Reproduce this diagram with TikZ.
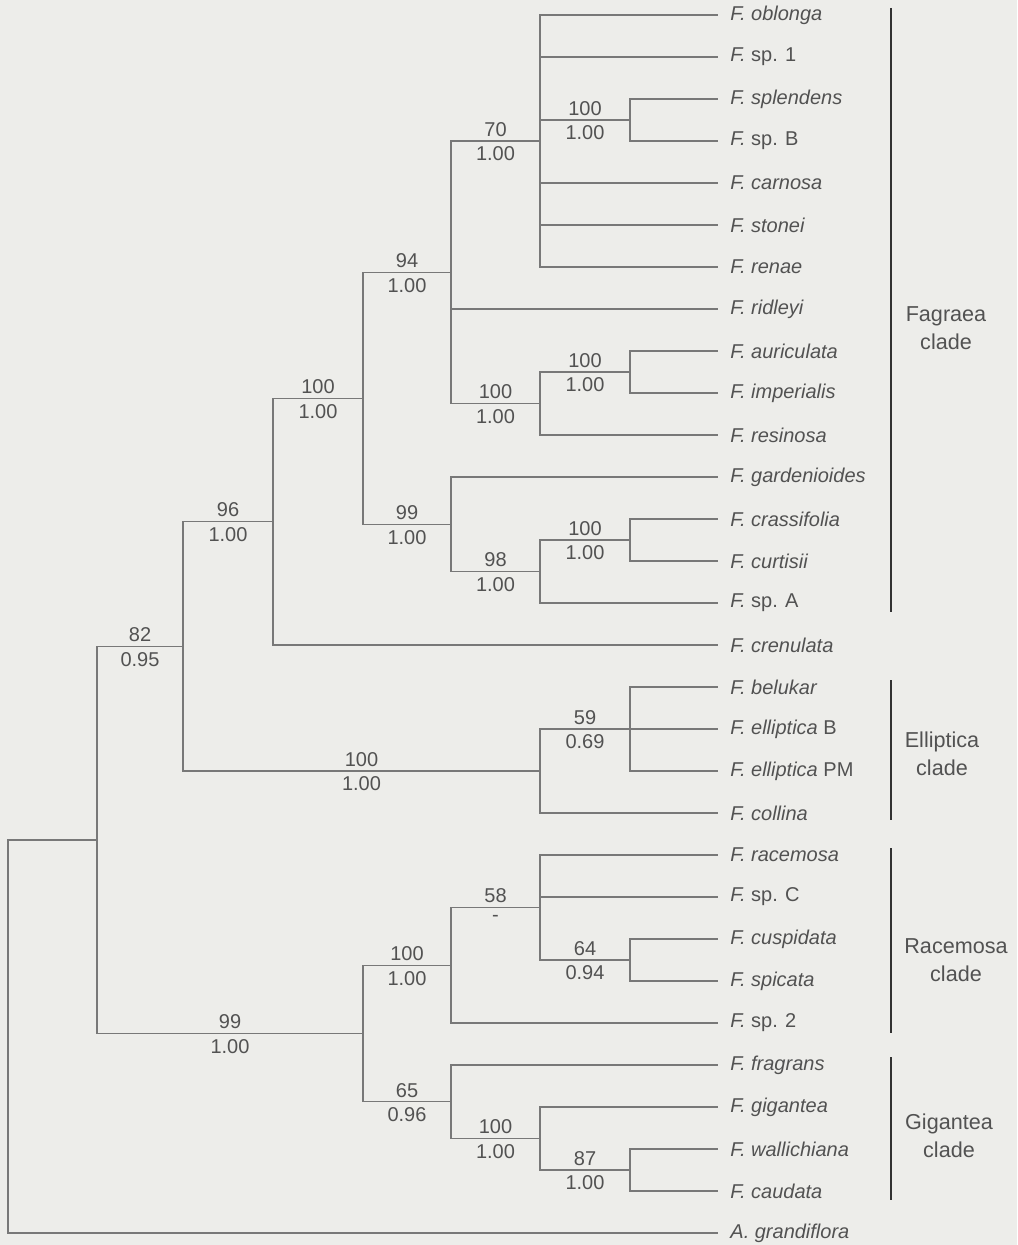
\documentclass[tikz,border=0pt]{standalone}
\usepackage{fontspec}
\setmainfont{Liberation Sans}
\definecolor{bgcol}{RGB}{237,237,234}
\definecolor{brgray}{RGB}{120,120,120}
\definecolor{txtgray}{RGB}{82,82,82}
\definecolor{bargray}{RGB}{50,50,50}

\begin{document}
\begin{tikzpicture}[x=0.5pt,y=-0.5pt,
    br/.style={draw=brgray, line width=0.6pt},
    leaf/.style={anchor=west, inner xsep=6pt, inner ysep=0pt, text=txtgray, font=\fontsize{10}{12}\selectfont},
    bs/.style={pos=0.75, above, inner sep=2pt, text=txtgray, font=\fontsize{10}{12}\selectfont},
    pp/.style={pos=0.75, below, inner sep=2.6pt, text=txtgray, font=\fontsize{10}{12}\selectfont},
    cbar/.style={draw=bargray, line width=1.4pt},
    clade/.style={align=center, text=txtgray, font=\fontsize{10.8}{14}\selectfont}
]
\fill[bgcol] (0,0) rectangle (1017,1245);
\useasboundingbox (0,0) rectangle (1017,1245);

% internal nodes
\coordinate (root) at (8,1036.5);
\coordinate (nA) at (97,840);
\coordinate (n82) at (183,646.3);
\coordinate (n96) at (273,521.6);
\coordinate (n100a) at (363,398.3);
\coordinate (n94) at (451,272.3);
\coordinate (n70) at (540,141);
\coordinate (n100c) at (630,120);
\coordinate (n100b) at (540,403.5);
\coordinate (n100d) at (630,372);
\coordinate (n99b) at (451,524.3);
\coordinate (n98) at (540,571.5);
\coordinate (n100e) at (630,540);
\coordinate (nEll) at (540,771);
\coordinate (n59) at (630,729);
\coordinate (nB) at (363,1033.5);
\coordinate (n100f) at (451,965.3);
\coordinate (n58) at (540,907.5);
\coordinate (n64) at (630,960);
\coordinate (n65) at (451,1101.8);
\coordinate (n100g) at (540,1138.5);
\coordinate (n87) at (630,1170);

% taxa
\node[leaf] (oblonga) at (718,15) {\textit{F. oblonga}};
\node[leaf] (sp1) at (718,57) {\textit{F.} sp. 1};
\node[leaf] (splendens) at (718,99) {\textit{F. splendens}};
\node[leaf] (spB) at (718,141) {\textit{F.} sp. B};
\node[leaf] (carnosa) at (718,183) {\textit{F. carnosa}};
\node[leaf] (stonei) at (718,225) {\textit{F. stonei}};
\node[leaf] (renae) at (718,267) {\textit{F. renae}};
\node[leaf] (ridleyi) at (718,309) {\textit{F. ridleyi}};
\node[leaf] (auriculata) at (718,351) {\textit{F. auriculata}};
\node[leaf] (imperialis) at (718,393) {\textit{F. imperialis}};
\node[leaf] (resinosa) at (718,435) {\textit{F. resinosa}};
\node[leaf] (gardenioides) at (718,477) {\textit{F. gardenioides}};
\node[leaf] (crassifolia) at (718,519) {\textit{F. crassifolia}};
\node[leaf] (curtisii) at (718,561) {\textit{F. curtisii}};
\node[leaf] (spA) at (718,603) {\textit{F.} sp. A};
\node[leaf] (crenulata) at (718,645) {\textit{F. crenulata}};
\node[leaf] (belukar) at (718,687) {\textit{F. belukar}};
\node[leaf] (ellB) at (718,729) {\textit{F. elliptica} B};
\node[leaf] (ellPM) at (718,771) {\textit{F. elliptica} PM};
\node[leaf] (collina) at (718,813) {\textit{F. collina}};
\node[leaf] (racemosa) at (718,855) {\textit{F. racemosa}};
\node[leaf] (spC) at (718,897) {\textit{F.} sp. C};
\node[leaf] (cuspidata) at (718,939) {\textit{F. cuspidata}};
\node[leaf] (spicata) at (718,981) {\textit{F. spicata}};
\node[leaf] (sp2) at (718,1023) {\textit{F.} sp. 2};
\node[leaf] (fragrans) at (718,1065) {\textit{F. fragrans}};
\node[leaf] (gigantea) at (718,1107) {\textit{F. gigantea}};
\node[leaf] (wallichiana) at (718,1149) {\textit{F. wallichiana}};
\node[leaf] (caudata) at (718,1191) {\textit{F. caudata}};
\node[leaf] (grandiflora) at (718,1233) {\textit{A. grandiflora}};

% branches
\draw[br] (root) |- (nA);
\draw[br] (root) |- (grandiflora);
\draw[br] (nA) |- (n82) node[bs] {82} node[pp] {0.95};
\draw[br] (nA) |- (nB) node[bs] {99} node[pp] {1.00};

\draw[br] (n82) |- (n96) node[bs] {96} node[pp] {1.00};
\draw[br] (n82) |- (nEll) node[bs] {100} node[pp] {1.00};
\draw[br] (n96) |- (n100a) node[bs] {100} node[pp] {1.00};
\draw[br] (n96) |- (crenulata);
\draw[br] (n100a) |- (n94) node[bs] {94} node[pp] {1.00};
\draw[br] (n100a) |- (n99b) node[bs] {99} node[pp] {1.00};
\draw[br] (n94) |- (n70) node[bs] {70} node[pp] {1.00};
\draw[br] (n94) |- (ridleyi);
\draw[br] (n94) |- (n100b) node[bs] {100} node[pp] {1.00};
\draw[br] (n70) |- (oblonga);
\draw[br] (n70) |- (sp1);
\draw[br] (n70) |- (n100c) node[bs] {100} node[pp] {1.00};
\draw[br] (n70) |- (carnosa);
\draw[br] (n70) |- (stonei);
\draw[br] (n70) |- (renae);
\draw[br] (n100c) |- (splendens);
\draw[br] (n100c) |- (spB);
\draw[br] (n100b) |- (n100d) node[bs] {100} node[pp] {1.00};
\draw[br] (n100b) |- (resinosa);
\draw[br] (n100d) |- (auriculata);
\draw[br] (n100d) |- (imperialis);
\draw[br] (n99b) |- (gardenioides);
\draw[br] (n99b) |- (n98) node[bs] {98} node[pp] {1.00};
\draw[br] (n98) |- (n100e) node[bs] {100} node[pp] {1.00};
\draw[br] (n98) |- (spA);
\draw[br] (n100e) |- (crassifolia);
\draw[br] (n100e) |- (curtisii);
\draw[br] (nEll) |- (n59) node[bs] {59} node[pp] {0.69};
\draw[br] (nEll) |- (collina);
\draw[br] (n59) |- (belukar);
\draw[br] (n59) |- (ellB);
\draw[br] (n59) |- (ellPM);

\draw[br] (nB) |- (n100f) node[bs] {100} node[pp] {1.00};
\draw[br] (nB) |- (n65) node[bs] {65} node[pp] {0.96};
\draw[br] (n100f) |- (n58) node[bs] {58} node[pp, yshift=-1pt] {-};
\draw[br] (n100f) |- (sp2);
\draw[br] (n58) |- (racemosa);
\draw[br] (n58) |- (spC);
\draw[br] (n58) |- (n64) node[bs] {64} node[pp] {0.94};
\draw[br] (n64) |- (cuspidata);
\draw[br] (n64) |- (spicata);
\draw[br] (n65) |- (fragrans);
\draw[br] (n65) |- (n100g) node[bs] {100} node[pp] {1.00};
\draw[br] (n100g) |- (gigantea);
\draw[br] (n100g) |- (n87) node[bs] {87} node[pp] {1.00};
\draw[br] (n87) |- (wallichiana);
\draw[br] (n87) |- (caudata);

% clade bars
\draw[cbar] (891,8) -- (891,612);
\draw[cbar] (891,680) -- (891,820);
\draw[cbar] (891,848) -- (891,1033);
\draw[cbar] (891,1057) -- (891,1200);
\node[clade] (fagraea) at (946,328) {Fagraea\\clade};
\node[clade] (elliptica) at (942,754) {Elliptica\\clade};
\node[clade] (racemosaclade) at (956,960) {Racemosa\\clade};
\node[clade] (giganteaclade) at (949,1136) {Gigantea\\clade};
\end{tikzpicture}
\end{document}
